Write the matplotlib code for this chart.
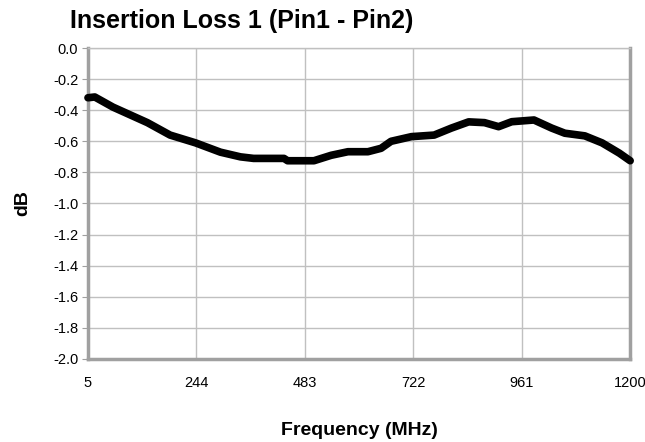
import matplotlib
matplotlib.use("Agg")
from matplotlib import pyplot as plt

# curve (MHz, dB)
freq_mhz = [5, 20, 60, 98, 136, 186, 242, 297, 341, 370, 437, 445, 503, 541, 578,
            622, 651, 673, 718, 768, 806, 844, 879, 910, 939, 988, 1027, 1056,
            1100, 1138, 1176, 1200]
loss_db = [-0.32, -0.315, -0.38, -0.43, -0.48, -0.56, -0.61, -0.67, -0.70, -0.71,
           -0.71, -0.725, -0.725, -0.69, -0.667, -0.667, -0.645, -0.60, -0.57,
           -0.56, -0.515, -0.475, -0.48, -0.506, -0.474, -0.463, -0.515, -0.548,
           -0.565, -0.61, -0.676, -0.725]

x_ticks = [5, 244, 483, 722, 961, 1200]
y_ticks = [0.0, -0.2, -0.4, -0.6, -0.8, -1.0, -1.2, -1.4, -1.6, -1.8, -2.0]

plt.rcParams['font.family'] = ['Liberation Sans', 'DejaVu Sans']

fig = plt.figure(figsize=(6.45, 4.42), dpi=100)
ax = fig.add_axes([0.1364, 0.1878, 0.8406, 0.7036])

ax.plot(freq_mhz, loss_db, color="black", lw=5.5, solid_joinstyle="round",
        solid_capstyle="round", clip_on=False, zorder=3)

ax.set_xlim(5, 1200)
ax.set_ylim(-2.0, 0.0)
ax.set_xticks(x_ticks)
ax.set_xticklabels([str(t) for t in x_ticks])
ax.set_yticks(y_ticks)
ax.set_yticklabels([f"{t:.1f}" for t in y_ticks])
ax.grid(True, color="#c0c0c0", lw=1)
ax.set_axisbelow(True)

for s in ax.spines.values():
    s.set_color("#a0a0a0")
    s.set_linewidth(2.5)
ax.spines["top"].set_linewidth(1)
ax.spines["top"].set_color("#c0c0c0")

ax.tick_params(axis="y", length=4, color="#a0a0a0", labelsize=10.5, pad=3)
ax.tick_params(axis="x", length=0, labelsize=10.5, pad=12)

ax.set_xlabel("Frequency (MHz)", fontsize=14, fontweight="bold", labelpad=23)
ax.set_ylabel("dB", fontsize=14, fontweight="bold", labelpad=16)
fig.text(0.109, 0.925, "Insertion Loss 1 (Pin1 - Pin2)", fontsize=18,
         fontweight="bold", ha="left", va="bottom")

fig.savefig("out.png", dpi=100)
